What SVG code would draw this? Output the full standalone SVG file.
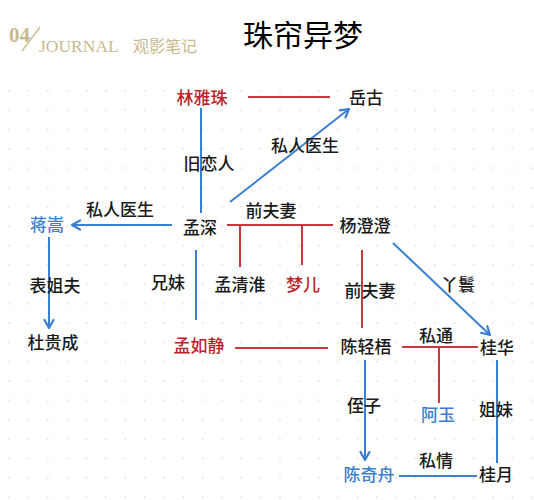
<svg xmlns="http://www.w3.org/2000/svg" width="534" height="500" viewBox="0 0 534 500">
<defs>
<pattern id="dots" x="8.3" y="90" width="19.35" height="19.35" patternUnits="userSpaceOnUse">
<circle cx="0.8" cy="0.8" r="0.9" fill="#dcdcdc"/>
</pattern>
<marker id="ah" viewBox="0 0 12 12" refX="10" refY="6" markerWidth="12" markerHeight="12" markerUnits="userSpaceOnUse" orient="auto">
<path d="M2,1.5 L10,6 L2,10.5" fill="none" stroke="#3b7fd1" stroke-width="2.2" stroke-linecap="round" stroke-linejoin="round"/>
</marker>
<style>
text{font-family:"Noto Sans CJK SC","Noto Sans",sans-serif;font-size:17px;font-weight:500;text-anchor:middle;fill:#1a1a1a}
.r{fill:#bb2228}
.b{fill:#3b7fd1}
.lr{stroke:#c8383c;stroke-width:2;fill:none}
.lb{stroke:#3b7fd1;stroke-width:2;fill:none}
.gold{fill:#c9b98e;font-family:"Liberation Serif",serif;text-anchor:start;font-weight:normal}
</style>
</defs>
<rect width="534" height="500" fill="#fff"/>
<rect x="0" y="78" width="534" height="422" fill="url(#dots)"/>

<g id="header">
<text class="gold" x="9" y="42" style="font-size:21px;font-weight:bold">04</text>
<line x1="22" y1="51" x2="40" y2="27" stroke="#c9b98e" stroke-width="1.3"/>
<text class="gold" x="39" y="52" style="font-size:17.5px">JOURNAL</text>
<text class="gold" x="133" y="52" style="font-size:16px;font-family:'Noto Sans CJK SC',sans-serif">观影笔记</text>
<text x="303" y="46" style="font-size:30px;font-weight:400;fill:#000">珠帘异梦</text>
</g>

<g id="connectors">
<line class="lr" x1="248" y1="97" x2="330" y2="97"/>
<line class="lb" x1="230" y1="202" x2="349" y2="109" marker-end="url(#ah)"/>
<line class="lb" x1="201" y1="108" x2="201" y2="213"/>
<line class="lb" x1="172" y1="225" x2="72" y2="225" marker-end="url(#ah)"/>
<line class="lb" x1="49" y1="237" x2="49" y2="328" marker-end="url(#ah)"/>
<line class="lb" x1="196" y1="250" x2="196" y2="320"/>
<line class="lr" x1="227" y1="225" x2="333" y2="225"/>
<line class="lr" x1="240" y1="225" x2="240" y2="267"/>
<line class="lr" x1="302" y1="225" x2="302" y2="265"/>
<line class="lr" x1="362" y1="250" x2="362" y2="328"/>
<line class="lb" x1="393" y1="243" x2="490" y2="335" marker-end="url(#ah)"/>
<line class="lr" x1="235" y1="348" x2="328" y2="348"/>
<line class="lr" x1="402" y1="347" x2="478" y2="347"/>
<line class="lr" x1="439" y1="347" x2="439" y2="403"/>
<line class="lb" x1="497" y1="360" x2="497" y2="463"/>
<line class="lb" x1="365" y1="360" x2="365" y2="460" marker-end="url(#ah)"/>
<line class="lb" x1="399" y1="476" x2="477" y2="476"/>
</g>

<g id="labels">
<text x="305" y="152">私人医生</text>
<text x="209" y="170">旧恋人</text>
<text x="120" y="216">私人医生</text>
<text x="271" y="217">前夫妻</text>
<text x="55" y="292">表姐夫</text>
<text x="168" y="289">兄妹</text>
<text x="370" y="297">前夫妻</text>
<text x="458" y="291">丫鬟</text>
<text x="436" y="342">私通</text>
<text x="364" y="412">侄子</text>
<text x="496" y="416">姐妹</text>
<text x="436" y="467">私情</text>
</g>

<g id="n-linyazhu"><text class="r" x="202" y="104">林雅珠</text></g>
<g id="n-yuegu"><text x="366" y="104">岳古</text></g>
<g id="n-mengshen"><text x="200" y="234">孟深</text></g>
<g id="n-jiangsong"><text class="b" x="47" y="231">蒋嵩</text></g>
<g id="n-yangchengcheng"><text x="365" y="232">杨澄澄</text></g>
<g id="n-duguicheng"><text x="53" y="349">杜贵成</text></g>
<g id="n-mengqinghuai"><text x="240" y="291">孟清淮</text></g>
<g id="n-menger"><text class="r" x="303" y="291">梦儿</text></g>
<g id="n-mengrujing"><text class="r" x="199" y="352">孟如静</text></g>
<g id="n-chenqingwu"><text x="366" y="353">陈轻梧</text></g>
<g id="n-guihua"><text x="497" y="354">桂华</text></g>
<g id="n-ayu"><text class="b" x="438" y="421">阿玉</text></g>
<g id="n-chenqizhou"><text class="b" x="369" y="481">陈奇舟</text></g>
<g id="n-guiyue"><text x="496" y="481">桂月</text></g>
</svg>
